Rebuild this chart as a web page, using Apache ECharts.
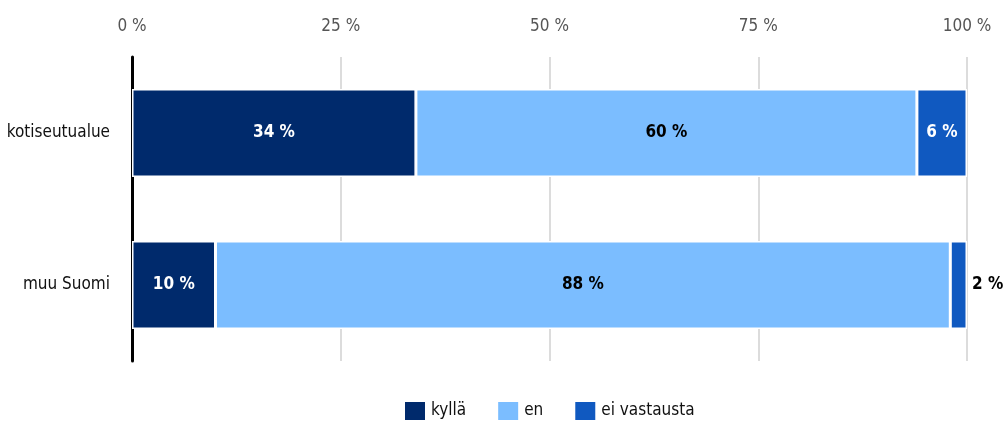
<!DOCTYPE html>
<html>
<head>
<meta charset="utf-8">
<script src="https://cdn.jsdelivr.net/npm/echarts@6/dist/echarts.min.js"></script>
<style>
  html, body { margin: 0; padding: 0; background: #fff; }
  #chart { width: 1004px; height: 422px; }
</style>
</head>
<body>
<div id="chart"></div>
<script>
const categories = ['kotiseutualue', 'muu Suomi'];
const kylla = [34, 10];
const en = [60, 88];
const eiVastausta = [6, 2];
const xTicks = [0, 25, 50, 75, 100];

const font = '"Liberation Sans Narrow", "DejaVu Sans Condensed", sans-serif';
const chart = echarts.init(document.getElementById('chart'));

function labelFor(color) {
    return {
        show: true,
        position: 'inside',
        formatter: '{c} %',
        color: color,
        fontFamily: font,
        fontWeight: 'bold',
        fontSize: 17
    };
}

const option = {
    animation: false,
    grid: { left: 132, right: 37, top: 57, bottom: 61, outerBoundsMode: 'none', containLabel: false },
    legend: {
        top: 395,
        left: 398,
        itemWidth: 22,
        itemHeight: 20,
        itemGap: 30,
        icon: 'rect',
        textStyle: { fontFamily: font, fontSize: 17, color: '#111' },
        data: ['kyllä', 'en', 'ei vastausta']
    },
    xAxis: {
        type: 'value',
        position: 'top',
        min: 0,
        max: 100,
        interval: 25,
        axisLine: { show: false },
        axisTick: { show: false },
        axisLabel: {
            margin: 22,
            color: '#555',
            fontFamily: font,
            fontSize: 17,
            formatter: v => xTicks.includes(v) ? v + ' %' : ''
        },
        splitLine: { lineStyle: { color: '#dcdcdc', width: 2 } }
    },
    yAxis: {
        type: 'category',
        inverse: true,
        data: categories,
        axisLine: { lineStyle: { color: '#000', width: 3 } },
        axisTick: { show: false },
        axisLabel: { margin: 22, color: '#111', fontFamily: font, fontSize: 17 }
    },
    series: [
        {
            name: 'kyllä', type: 'bar', stack: 'total', barWidth: 88,
            itemStyle: { color: '#002a6c', borderColor: '#fff', borderWidth: 1.5 },
            label: labelFor('#fff'),
            data: kylla
        },
        {
            name: 'en', type: 'bar', stack: 'total', barWidth: 88,
            itemStyle: { color: '#7bbdff', borderColor: '#fff', borderWidth: 1.5 },
            label: labelFor('#000'),
            data: en
        },
        {
            name: 'ei vastausta', type: 'bar', stack: 'total', barWidth: 88,
            itemStyle: { color: '#1059c0', borderColor: '#fff', borderWidth: 1.5 },
            label: labelFor('#fff'),
            data: eiVastausta.map(v => v < 4
                ? { value: v, label: { position: 'right', color: '#000', distance: 5 } }
                : v)
        }
    ]
};

chart.setOption(option);
window.addEventListener('resize', chart.resize);
</script>
</body>
</html>
